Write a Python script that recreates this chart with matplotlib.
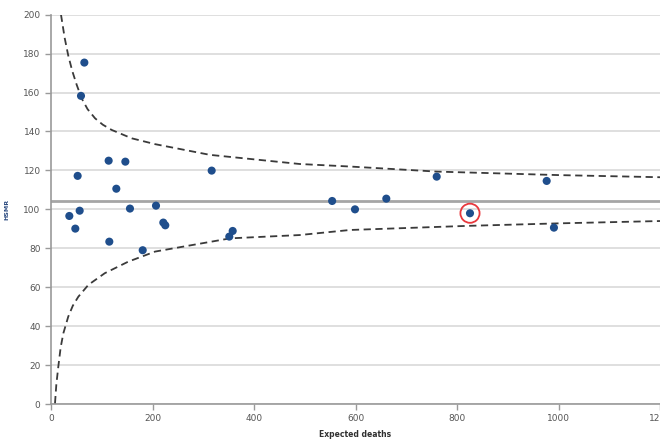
import numpy as np
import matplotlib
matplotlib.use("Agg")
import matplotlib.pyplot as plt

# hospital points: expected deaths vs HSMR
expected = [65.7, 59.1, 113.6, 146.5, 52.5, 128.7, 36.1, 56.5, 47.9, 155.6,
            206.9, 114.9, 221.3, 225.2, 180.7, 316.6, 554, 351.3, 358, 599,
            660.7, 760, 825.6, 976.7, 991]
hsmr = [175.4, 158.3, 125.0, 124.5, 117.2, 110.6, 96.6, 99.3, 90.1, 100.4,
        101.9, 83.4, 93.2, 91.8, 79.0, 119.9, 104.3, 86.0, 88.9, 100.0,
        105.5, 116.8, 98.0, 114.6, 90.6]

# highlighted hospital
hl_expected = [825.6]
hl_hsmr = [98.0]

# mean line
mean_hsmr = 104.3

# control limits
upper_e = [19.7, 27, 34, 42, 50.6, 60.4, 72, 86.7, 102, 119.6, 159, 205, 313, 490, 589, 760, 1000, 1200]
upper_v = [200, 188, 179, 171, 164, 157, 151.5, 146.8, 143.5, 140.8, 136.5, 133.5, 128, 123.3, 122, 119.4, 117.6, 116.5]
lower_e = [7.9, 10.5, 14.4, 19, 24.3, 34, 43, 53.8, 73.6, 106, 152, 205, 353, 490, 589, 819, 1000, 1200]
lower_v = [0.4, 10, 19.2, 29, 36.3, 44.9, 50.5, 55.1, 61.2, 67.2, 73.1, 78.3, 85.1, 86.8, 89.4, 91.5, 92.8, 94.0]

fig = plt.figure(figsize=(6.6, 4.43), dpi=100)
ax = fig.add_axes([51/660, 39/443, 609/660, 389.3/443])

ax.set_xlim(0, 1200)
ax.set_ylim(0, 200)
ax.set_xticks(np.arange(0, 1201, 200))
ax.set_yticks(np.arange(0, 201, 20))
ax.grid(axis='y', color='#d9d9d9', linewidth=1.2)
ax.set_axisbelow(True)

for s in ['top', 'right']:
    ax.spines[s].set_visible(False)
for s in ['left', 'bottom']:
    ax.spines[s].set_color('#9a9a9a')
    ax.spines[s].set_linewidth(1.2)

ax.tick_params(colors='#9a9a9a', labelcolor='#555555', labelsize=6.5, length=4, width=1)

ax.axhline(mean_hsmr, color='#a6a6a6', linewidth=2, zorder=2)
ax.plot(upper_e, upper_v, color='#3a3a3a', linestyle=(0, (4, 2.5)), linewidth=1.3, zorder=3)
ax.plot(lower_e, lower_v, color='#3a3a3a', linestyle=(0, (4, 2.5)), linewidth=1.3, zorder=3)

ax.scatter(expected, hsmr, s=34, color='#1f4e8c', edgecolors='none', zorder=4)
ax.scatter(hl_expected, hl_hsmr, s=190, facecolors='none', edgecolors='#e8383d', linewidths=1.3, zorder=5)

ax.set_xlabel('Expected deaths', fontsize=5.5, color='#303030', fontweight='bold', labelpad=5)
ax.set_ylabel('HSMR', fontsize=4.5, color='#2a4a80', fontweight='bold', labelpad=10)

fig.savefig('out.png', dpi=100)
